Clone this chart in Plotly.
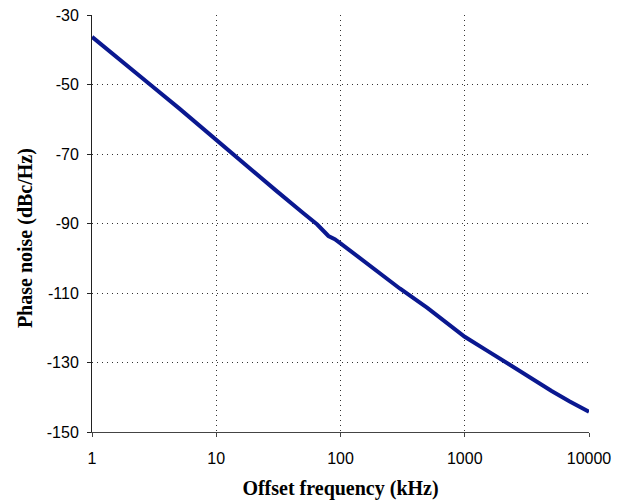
import plotly.graph_objects as go

freq_khz = [1, 1.5, 2, 3, 5, 7, 10, 15, 20, 30, 50, 65, 80, 90, 100, 150, 200, 300,
            500, 700, 1000, 1500, 2000, 3000, 5000, 7000, 10000]
phase_noise = [-36.3, -41.6, -45.3, -50.3, -56.8, -61.3, -66.0, -71.3, -75.0, -80.4,
               -87.0, -90.3, -93.6, -94.5, -95.7, -100.6, -104.0, -108.7, -114.3,
               -118.2, -122.6, -126.5, -129.3, -133.3, -138.2, -141.2, -144.2]

x_ticks = [1, 10, 100, 1000, 10000]
x_tick_text = ["1", "10", "100", "1000", "10000"]
y_ticks = [-150, -130, -110, -90, -70, -50, -30]
y_tick_text = ["-150", "-130", "-110", "-90", "-70", "-50", "-30"]

fig = go.Figure()
fig.add_trace(go.Scatter(x=freq_khz, y=phase_noise, mode="lines",
                         line=dict(color="#0A1890", width=4), showlegend=False))

tick_font = dict(family="Liberation Sans, Arial, sans-serif", size=16, color="black")
title_font = dict(family="Liberation Serif, Times New Roman, serif", size=20, color="black")

fig.update_layout(
    width=613, height=494,
    margin=dict(l=84, r=32, t=7, b=70, autoexpand=False),
    paper_bgcolor="white", plot_bgcolor="white",
    xaxis=dict(type="log", range=[0, 4], tickvals=x_ticks, ticktext=x_tick_text,
               showline=True, linecolor="#444444", linewidth=1,
               ticks="outside", ticklen=4, tickcolor="#444444",
               ticklabelstandoff=8,
               showgrid=True, gridcolor="#333333", griddash="1px,4px", gridwidth=1,
               tickfont=tick_font, zeroline=False, automargin=False,
               title=dict(text="<b>Offset frequency (kHz)</b>", font=title_font, standoff=14)),
    yaxis=dict(range=[-150, -30], tickvals=y_ticks, ticktext=y_tick_text,
               showline=True, linecolor="#222222", linewidth=1,
               ticks="outside", ticklen=4, tickcolor="#222222",
               ticklabelstandoff=5, ticklabeloverflow="allow",
               showgrid=True, gridcolor="#333333", griddash="1px,4px", gridwidth=1,
               tickfont=tick_font, zeroline=False, automargin=False),
    annotations=[dict(text="<b>Phase noise (dBc/Hz)</b>", font=title_font,
                      textangle=-90, xref="paper", yref="paper", x=0, y=0.465,
                      xanchor="center", yanchor="middle", xshift=-67, showarrow=False)],
)

fig.write_html("out.html")
